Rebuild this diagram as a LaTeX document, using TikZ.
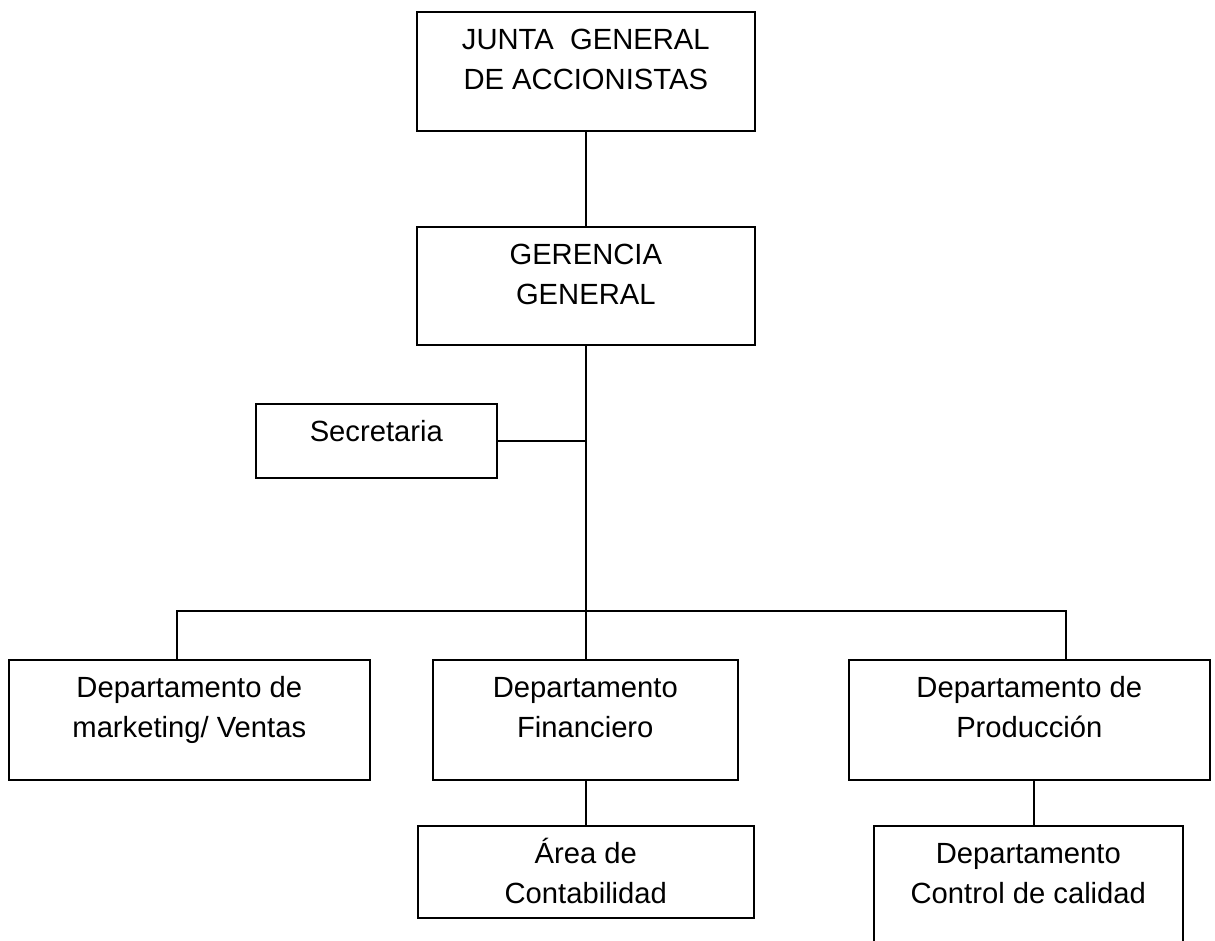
\documentclass[tikz,border=0pt]{standalone}
\usepackage{fontspec}
\setmainfont{Liberation Sans}
% text of a box: width, height, lines (top aligned)
\newcommand{\boxtext}[3]{\parbox[c][#2][t]{#1}{\centering\fontsize{14.6}{20}\selectfont\rule{0pt}{19pt}#3}}
\begin{document}
\begin{tikzpicture}[
        x=1pt, y=-1pt,
        box/.style={draw, line width=0.8pt, inner sep=0pt, anchor=north west},
        link/.style={line width=0.8pt}
      ]
      \useasboundingbox (0,0) rectangle (607.5,470.5);
      \node[box] (junta) at (208,5.5) {\boxtext{169pt}{59.5pt}{JUNTA\ \ GENERAL\\DE ACCIONISTAS}};
      \node[box] (gerencia) at (208,113) {\boxtext{169pt}{59pt}{GERENCIA\\GENERAL}};
      \node[box] (secretaria) at (127.5,201.5) {\boxtext{120.5pt}{37pt}{Secretaria}};
      \node[box] (marketing) at (4,329.5) {\boxtext{180.5pt}{60pt}{Departamento de\\marketing/ Ventas}};
      \node[box] (financiero) at (216,329.5) {\boxtext{152.5pt}{60pt}{Departamento\\Financiero}};
      \node[box] (produccion) at (424,329.5) {\boxtext{180.5pt}{60pt}{Departamento de\\Producción}};
      \node[box] (area) at (208.5,412.5) {\boxtext{168pt}{46pt}{Área de\\Contabilidad}};
      \node[box] (control) at (436.5,412.5) {\boxtext{154.5pt}{62pt}{Departamento\\Control de calidad}};
      \coordinate (busleft) at (88.5,305.5);
      \coordinate (busright) at (533,305.5);
      \coordinate (ctrlline) at (517,400);
      % lines
      \draw[link] (junta.south) -- (gerencia.north);
      \draw[link] (gerencia.south) -- (gerencia.south |- financiero.north);
      \draw[link] (secretaria.east) -- (secretaria.east -| gerencia.south);
      \draw[link] (marketing.north -| busleft) -- (busleft) -- (busright) -- (busright |- produccion.north);
      \draw[link] (area.north |- financiero.south) -- (area.north);
      \draw[link] (ctrlline |- produccion.south) -- (ctrlline |- control.north);
\end{tikzpicture}
\end{document}
